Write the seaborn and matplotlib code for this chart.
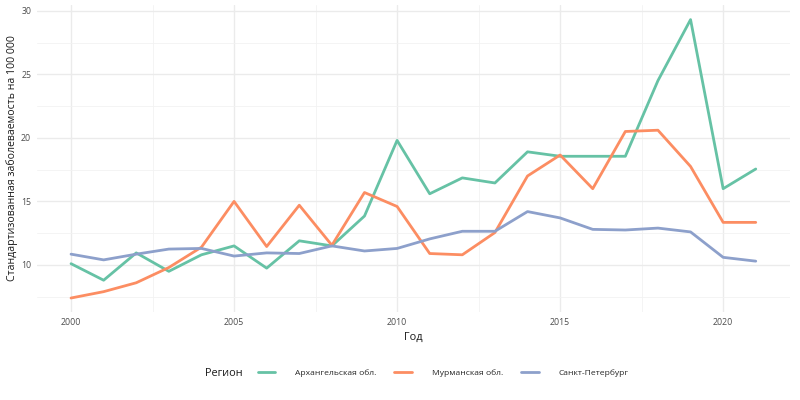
import matplotlib
matplotlib.use("Agg")
import matplotlib.pyplot as plt
import seaborn as sns
import pandas as pd
from matplotlib.ticker import MultipleLocator

years = list(range(2000, 2022))
regions = ["Архангельская обл.", "Мурманская обл.", "Санкт-Петербург"]
arkhangelsk = [10.1, 8.8, 10.95, 9.5, 10.8, 11.5, 9.75, 11.9, 11.5, 13.85, 19.8,
               15.6, 16.85, 16.45, 18.9, 18.55, 18.55, 18.55, 24.5, 29.3, 16.0, 17.55]
murmansk = [7.4, 7.9, 8.6, 9.8, 11.4, 15.0, 11.45, 14.7, 11.55, 15.7, 14.6,
            10.9, 10.8, 12.55, 17.0, 18.65, 16.0, 20.5, 20.6, 17.75, 13.35, 13.35]
spb = [10.85, 10.4, 10.85, 11.25, 11.3, 10.7, 10.95, 10.9, 11.5, 11.1, 11.3,
       12.05, 12.65, 12.65, 14.2, 13.7, 12.8, 12.75, 12.9, 12.6, 10.6, 10.3]

df = pd.DataFrame({
    "Год": years * 3,
    "value": arkhangelsk + murmansk + spb,
    "Регион": [regions[0]] * 22 + [regions[1]] * 22 + [regions[2]] * 22,
})

sns.set_theme(style="white")
plt.rcParams["font.family"] = ["Open Sans", "DejaVu Sans"]

fig = plt.figure(figsize=(8, 4), dpi=100)
ax = fig.add_axes([0.046, 0.22, 0.9415, 0.7675])

palette = sns.color_palette("Set2", 3)
sns.lineplot(data=df, x="Год", y="value", hue="Регион", hue_order=regions,
             palette=palette, linewidth=2.0, ax=ax)

ax.set_xlim(1998.95, 2022.05)
ax.set_ylim(6.3, 30.45)
ax.xaxis.set_major_locator(MultipleLocator(5))
ax.xaxis.set_minor_locator(MultipleLocator(2.5))
ax.yaxis.set_major_locator(MultipleLocator(5))
ax.yaxis.set_minor_locator(MultipleLocator(2.5))
ax.grid(which="major", color="#EBEBEB", linewidth=1.0)
ax.grid(which="minor", color="#F2F2F2", linewidth=0.6)
ax.set_axisbelow(True)
for s in ax.spines.values():
    s.set_visible(False)
ax.tick_params(which="both", length=0, labelsize=6.3, labelcolor="#4D4D4D", pad=4)
ax.set_xlabel("Год", fontsize=7.8, color="#1A1A1A", labelpad=4)
ax.set_ylabel("Стандартизованная заболеваемость на 100 000", fontsize=7.6,
              color="#1A1A1A", labelpad=2.5)

handles, labels = ax.get_legend_handles_labels()
ax.get_legend().remove()
fig.text(0.256, 0.0675, "Регион", fontsize=7.8, color="#1A1A1A", ha="left", va="center")
fig.legend(handles, labels, loc="center left", bbox_to_anchor=(0.322, 0.0675),
           ncol=3, frameon=False, fontsize=6.1, handlelength=2.1,
           handletextpad=2.35, columnspacing=2.1, borderaxespad=0, borderpad=0)

fig.savefig("out.png", dpi=100)
